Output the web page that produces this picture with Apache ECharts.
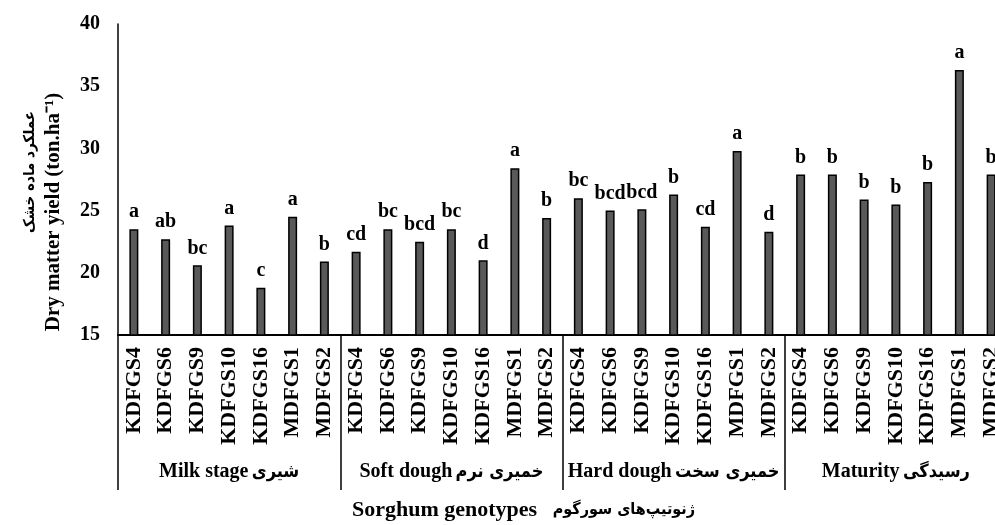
<!DOCTYPE html>
<html><head><meta charset="utf-8">
<script src="https://cdn.jsdelivr.net/npm/echarts@6/dist/echarts.min.js"></script>
<style>html,body{margin:0;padding:0;background:#fff}#c{width:995px;height:525px}</style>
</head><body><div id="c"></div>
<script>
const genotypes = ['KDFGS4','KDFGS6','KDFGS9','KDFGS10','KDFGS16','MDFGS1','MDFGS2'];
const stagesEn = ['Milk stage','Soft dough','Hard dough','Maturity'];
const stagesFa = ['شیری','خمیری نرم','خمیری سخت','رسیدگی'];
const milkValues = [23.5,22.7,20.6,23.8,18.8,24.5,20.9];
const softValues = [21.7,23.5,22.5,23.5,21.0,28.4,24.4];
const hardValues = [26.0,25.0,25.1,26.3,23.7,29.8,23.3];
const maturityValues = [27.9,27.9,25.9,25.5,27.3,36.3,27.9];
const milkLetters = ['a','ab','bc','a','c','a','b'];
const softLetters = ['cd','bc','bcd','bc','d','a','b'];
const hardLetters = ['bc','bcd','bcd','b','cd','a','d'];
const maturityLetters = ['b','b','b','b','b','a','b'];
const yMin = 15, yMax = 40, yStep = 5;
const yTitleEn = 'Dry matter yield (ton.ha\u207B\u00B9)';
const yTitleFa = 'عملکرد ماده خشک';
const xTitleEn = 'Sorghum genotypes';
const xTitleFa = 'ژنوتیپ‌های سورگوم';

const categories = [].concat(genotypes, genotypes, genotypes, genotypes);
const values = [].concat(milkValues, softValues, hardValues, maturityValues);
const letters = [].concat(milkLetters, softLetters, hardLetters, maturityLetters);
const stageLabels = stagesEn.map((e, i) => '{en|' + e + '} {fa|' + stagesFa[i] + '}');
const FONT = '"Liberation Serif", "Times New Roman", serif';
const FA = '"DejaVu Sans Condensed", "DejaVu Sans", sans-serif';

const chart = echarts.init(document.getElementById('c'), null, {renderer: 'canvas'});
chart.setOption({
  backgroundColor: '#fff',
  animation: false,
  grid: {left: 118, top: 24, width: 889, bottom: 190, containLabel: false, outerBoundsMode: 'none'},
  xAxis: [{
    type: 'category', data: categories, position: 'bottom',
    axisLine: {show: true, lineStyle: {color: '#000', width: 2}},
    axisTick: {show: false},
    axisLabel: {interval: 0, rotate: 90, margin: 12, color: '#000', fontFamily: FONT, fontWeight: 'bold', fontSize: 22}
  }, {
    type: 'category', data: stageLabels, position: 'bottom',
    axisLine: {show: false},
    axisTick: {show: true, length: 155, lineStyle: {color: '#000', width: 1.5}},
    axisLabel: {interval: 0, margin: 127, color: '#000',
      rich: {
        en: {fontFamily: FONT, fontWeight: 'bold', fontSize: 20, color: '#000'},
        fa: {fontFamily: FA, fontWeight: 'bold', fontSize: 18, color: '#000'}
      }}
  }],
  yAxis: {
    type: 'value', min: yMin, max: yMax, interval: yStep,
    axisLine: {show: true, lineStyle: {color: '#000', width: 1.5}},
    axisTick: {show: false},
    splitLine: {show: false},
    axisLabel: {margin: 18, color: '#000', fontFamily: FONT, fontWeight: 'bold', fontSize: 20}
  },
  series: [{
    type: 'bar', xAxisIndex: 0, data: values, barWidth: 9,
    itemStyle: {color: '#595959', borderColor: '#000', borderWidth: 1.5},
    label: {show: true, position: 'top', distance: 7, color: '#000', fontFamily: FONT, fontWeight: 'bold', fontSize: 20,
      formatter: p => letters[p.dataIndex]}
  }],
  graphic: [
    {type: 'text', x: 54, y: 212, rotation: Math.PI / 2,
      style: {text: yTitleEn, fill: '#000', font: 'bold 21px ' + FONT, textAlign: 'center', textVerticalAlign: 'middle'}},
    {type: 'text', x: 30, y: 172, rotation: Math.PI / 2,
      style: {text: yTitleFa, fill: '#000', font: 'bold 15px ' + FA, textAlign: 'center', textVerticalAlign: 'middle'}},
    {type: 'text', x: 352, y: 510,
      style: {text: xTitleEn, fill: '#000', font: 'bold 22px ' + FONT, textAlign: 'left', textVerticalAlign: 'middle'}},
    {type: 'text', x: 695, y: 510,
      style: {text: xTitleFa, fill: '#000', font: 'bold 16px ' + FA, textAlign: 'right', textVerticalAlign: 'middle'}}
  ]
});
</script></body></html>
